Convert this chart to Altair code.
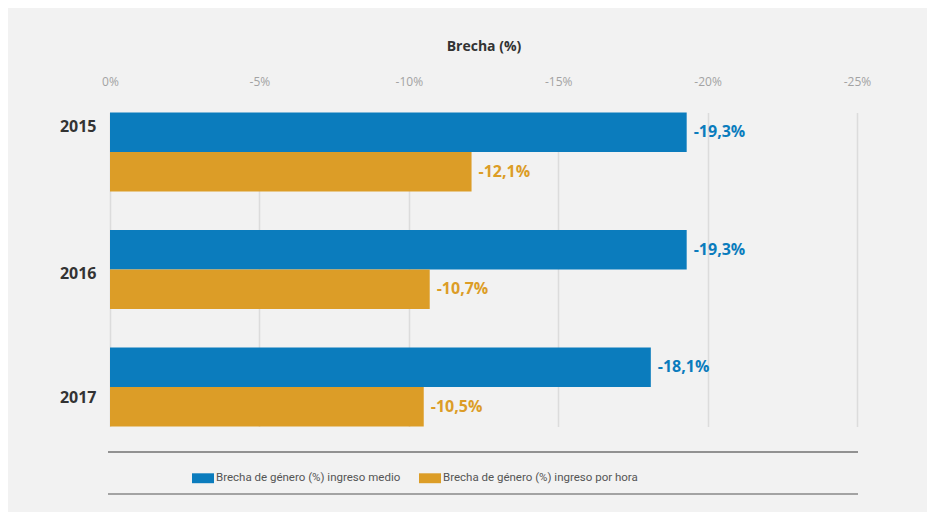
import altair as alt
import pandas as pd

years = ["2015", "2016", "2017"]
ingreso_medio = [-19.3, -19.3, -18.1]
ingreso_hora = [-12.1, -10.7, -10.5]
series = ["Brecha de género (%) ingreso medio", "Brecha de género (%) ingreso por hora"]
colors = ["#0b7cbd", "#dc9d27"]
x_ticks = [0, -5, -10, -15, -20, -25]

rows = []
for i, y in enumerate(years):
    for s, vals in zip(series, [ingreso_medio, ingreso_hora]):
        v = vals[i]
        rows.append({"year": y, "serie": s, "valor": v,
                     "etiqueta": f"{v:.1f}".replace(".", ",") + "%"})
df = pd.DataFrame(rows)

FONT = "Open Sans"

x_enc = alt.X("valor:Q",
              scale=alt.Scale(domain=[0, -25], nice=False),
              axis=alt.Axis(orient="top", values=x_ticks, labelExpr="datum.value + '%'",
                            title="Brecha (%)", titleFont=FONT, titleFontSize=14,
                            titleFontWeight="bold", titleColor="#333333", titlePadding=22,
                            labelFont=FONT, labelFontSize=12, labelColor="#a3a3a3",
                            labelPadding=4, labelFlush=False, ticks=False, domain=False,
                            grid=True, gridColor="#dcdcdc", gridWidth=1.5))

y_enc = alt.Y("year:N", sort=years,
              scale=alt.Scale(range=[20.5, 334.5], paddingInner=0.328, paddingOuter=0),
              axis=alt.Axis(title=None, ticks=False, domain=False, grid=False,
                            labelFont=FONT, labelFontSize=16, labelFontWeight="bold",
                            labelColor="#333333", labelPadding=14,
                            labelOffset={"expr": "datum.label == '2015' ? -25 : datum.label == '2017' ? 11 : 4"}))

yoff = alt.YOffset("serie:N", sort=series, scale=alt.Scale(paddingInner=0, paddingOuter=0))

color_scale = alt.Scale(domain=series, range=colors)

bars = alt.Chart(df).mark_bar().encode(
    x=x_enc,
    y=y_enc,
    yOffset=yoff,
    color=alt.Color("serie:N", scale=color_scale,
                    legend=alt.Legend(title=None, orient="none", direction="horizontal",
                                      legendX=82, legendY=375,
                                      symbolType="M-1,-0.45H1V0.45H-1Z", symbolSize=484,
                                      symbolStrokeWidth=0, symbolOpacity=1,
                                      labelFont="Roboto", labelFontSize=11.5,
                                      labelColor="#555555", labelOffset=2, labelLimit=400,
                                      columnPadding=18)),
)

labels = alt.Chart(df).mark_text(align="left", baseline="middle", dx=7,
                                 font=FONT, fontSize=16, fontWeight="bold").encode(
    x="valor:Q",
    y=alt.Y("year:N", sort=years),
    yOffset=alt.YOffset("serie:N", sort=series),
    text="etiqueta:N",
    color=alt.Color("serie:N", scale=color_scale, legend=None),
)

line_df = pd.DataFrame({"k": [0]})
rule_top = alt.Chart(line_df).mark_rule(color="#333333", strokeWidth=1).encode(
    x=alt.value(-2), x2=alt.value(748), y=alt.value(360))
rule_bot = alt.Chart(line_df).mark_rule(color="#888888", strokeWidth=1.5).encode(
    x=alt.value(-2), x2=alt.value(748), y=alt.value(402))

chart = alt.layer(bars, labels, rule_top, rule_bot).properties(
    width=747, height=340,
    autosize=alt.AutoSizeParams(type="none"),
    padding={"left": 102, "top": 84, "right": 70, "bottom": 80},
    background="#f2f2f2",
).configure_view(stroke=None)

chart.save("out.html", embed_options={"renderer": "svg", "actions": False})
